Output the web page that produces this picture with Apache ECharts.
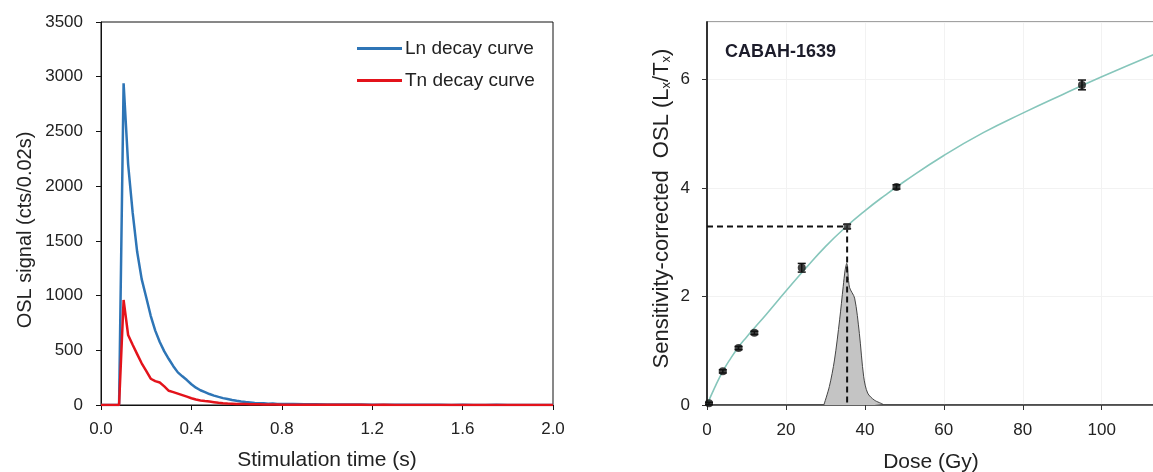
<!DOCTYPE html>
<html>
<head>
<meta charset="utf-8">
<script src="https://cdn.jsdelivr.net/npm/echarts@6/dist/echarts.min.js"></script>
<style>
html,body{margin:0;padding:0;background:#fff;}
#chart{width:1153px;height:472px;}
</style>
</head>
<body>
<div id="chart"></div>
<script>
// ---------- Left panel: OSL decay curves ----------
const timeS = [0, 0.02, 0.04, 0.06, 0.08,
  0.10, 0.12, 0.14, 0.16, 0.18, 0.20, 0.22, 0.24, 0.26, 0.28, 0.30, 0.32, 0.34, 0.36, 0.38, 0.40,
  0.42, 0.44, 0.46, 0.48, 0.50, 0.52, 0.54, 0.56, 0.58, 0.60, 0.62, 0.64, 0.66, 0.68, 0.70,
  0.72, 0.74, 0.76, 0.78, 0.80,
  0.85, 0.90, 0.95, 1.00, 1.05, 1.10, 1.15, 1.20, 1.25, 1.30, 1.35, 1.40, 1.45, 1.50,
  1.55, 1.60, 1.65, 1.70, 1.75, 1.80, 1.85, 1.90, 1.95, 2.00];
const lnCounts = [0, 0, 0, 0, 0,
  2940, 2200, 1760, 1400, 1150, 985, 815, 680, 575, 490, 420, 355, 298, 262, 228, 190,
  158, 135, 118, 100, 86, 74, 63, 55, 46, 38, 32, 27, 24, 18, 16,
  15, 12, 13, 10, 9,
  8, 7, 6, 5, 4, 5, 4, 3, 3, 2, 3, 2, 2, 2,
  1, 2, 1, 1, 2, 1, 1, 1, 1, 1];
const tnCounts = [0, 0, 0, 0, 0,
  960, 640, 550, 465, 381, 312, 240, 218, 205, 170, 130, 118, 104, 90, 76, 62,
  50, 42, 36, 31, 26, 21, 17, 14, 12, 10, 9, 8, 7, 6, 6,
  5, 5, 4, 4, 3,
  3, 3, 2, 3, 2, 2, 2, 1, 2, 1, 1, 1, 1, 1,
  1, 1, 1, 1, 1, 1, 1, 1, 1, 1];
const leftXTicks = ['0.0', '0.4', '0.8', '1.2', '1.6', '2.0'];

// ---------- Right panel: dose-response curve ----------
const sampleName = 'CABAH-1639';
const regenDose = [0.5, 4, 8, 12, 24, 48, 95];
const regenRatio = [0.03, 0.62, 1.05, 1.33, 2.53, 4.02, 5.9];
const regenErr = [0.02, 0.03, 0.03, 0.03, 0.08, 0.04, 0.09];
const naturalDose = [35.5];
const naturalRatio = [3.29];
const naturalErr = [0.04];
const fitDose = [0, 2, 4, 6, 8, 10, 12, 15, 20, 25, 30, 35, 40, 45, 50, 60, 70, 80, 90, 100, 113.5];
const fitRatio = [0, 0.33, 0.62, 0.86, 1.07, 1.25, 1.42, 1.67, 2.1, 2.52, 2.92, 3.27, 3.58, 3.86, 4.12, 4.6, 5.02, 5.38, 5.72, 6.05, 6.47];
const deDose = [29.6, 31.0, 32.3, 33.6, 34.5, 35.0, 35.4, 36.1, 37.4, 38.6, 39.7, 40.7, 42.4, 44.5];
const deDensity = [0, 0.34, 0.83, 1.57, 2.18, 2.49, 2.61, 2.17, 1.97, 1.32, 0.52, 0.22, 0.09, 0.02];

const FONT = '"Liberation Sans", Arial, sans-serif';
const zip = (a, b) => a.map((v, i) => [v, b[i]]);

const errData = regenDose.map((d, i) => [d, regenRatio[i] - regenErr[i], regenRatio[i] + regenErr[i]])
  .concat(naturalDose.map((d, i) => [d, naturalRatio[i] - naturalErr[i], naturalRatio[i] + naturalErr[i]]));

const chart = echarts.init(document.getElementById('chart'), null, {renderer: 'canvas'});
chart.setOption({
  animation: false,
  backgroundColor: '#fff',
  textStyle: {fontFamily: FONT},
  title: {
    text: sampleName, left: 720, top: 38,
    textStyle: {fontFamily: FONT, fontSize: 18, fontWeight: 'bold', color: '#1c1c2a'}
  },
  legend: {
    data: ['Ln decay curve', 'Tn decay curve'],
    orient: 'vertical', left: 352, top: 34, itemGap: 13,
    icon: 'rect', itemWidth: 45, itemHeight: 3,
    textStyle: {fontFamily: FONT, fontSize: 19, color: '#222', padding: [0, 0, 0, -2]}
  },
  grid: [
    {left: 101, top: 22, width: 452, bottom: 67, show: true, borderColor: '#111', borderWidth: 1,
      containLabel: false, outerBoundsMode: 'none'},
    {left: 707, top: 22, right: -2, bottom: 67, show: true, borderColor: '#444', borderWidth: 1,
      containLabel: false, outerBoundsMode: 'none'}
  ],
  xAxis: [
    {
      gridIndex: 0, type: 'value', min: 0, max: 2, interval: 0.4,
      name: 'Stimulation time (s)', nameLocation: 'middle', nameGap: 45,
      nameTextStyle: {fontFamily: FONT, fontSize: 21, color: '#222'},
      axisLine: {lineStyle: {color: '#111', width: 1}},
      axisTick: {show: true, length: 5, lineStyle: {color: '#111'}},
      axisLabel: {fontFamily: FONT, fontSize: 17, color: '#222', margin: 16,
        formatter: v => leftXTicks[Math.round(v / 0.4)]},
      splitLine: {show: false}
    },
    {
      gridIndex: 1, type: 'value', min: 0, max: 113.5, interval: 20,
      name: 'Dose (Gy)', nameLocation: 'middle', nameGap: 47,
      nameTextStyle: {fontFamily: FONT, fontSize: 21, color: '#222'},
      axisLine: {lineStyle: {color: '#333', width: 1.5}},
      axisTick: {show: true, length: 5, lineStyle: {color: '#333'}},
      axisLabel: {fontFamily: FONT, fontSize: 17, color: '#222', margin: 17, showMaxLabel: false},
      splitLine: {show: true, lineStyle: {color: '#f2f2f2', width: 1}}
    }
  ],
  yAxis: [
    {
      gridIndex: 0, type: 'value', min: 0, max: 3500, interval: 500,
      name: 'OSL signal (cts/0.02s)', nameLocation: 'middle', nameGap: 66,
      nameTextStyle: {fontFamily: FONT, fontSize: 20, color: '#222', padding: [0, 33, 0, 0]},
      axisLine: {lineStyle: {color: '#111', width: 1}},
      axisTick: {show: true, length: 5, lineStyle: {color: '#111'}},
      axisLabel: {fontFamily: FONT, fontSize: 17, color: '#222', margin: 18, formatter: v => String(v)},
      splitLine: {show: false}
    },
    {
      gridIndex: 1, type: 'value', min: 0, max: 7.06, interval: 2,
      name: '{t|Sensitivity-corrected  OSL (L}{s|x}{t|/T}{s|x}{t|)}',
      nameLocation: 'middle', nameGap: 34,
      nameTextStyle: {
        fontFamily: FONT, fontSize: 22, color: '#222', padding: [0, 0, 0, 10],
        rich: {
          t: {fontFamily: FONT, fontSize: 22, color: '#222', lineHeight: 26, verticalAlign: 'bottom'},
          s: {fontFamily: FONT, fontSize: 13, color: '#222', lineHeight: 26, verticalAlign: 'bottom'}
        }
      },
      axisLine: {lineStyle: {color: '#333', width: 2}},
      axisTick: {show: true, length: 5, lineStyle: {color: '#333'}},
      axisLabel: {fontFamily: FONT, fontSize: 17, color: '#222', margin: 17, showMaxLabel: false},
      splitLine: {show: true, lineStyle: {color: '#f2f2f2', width: 1}}
    }
  ],
  series: [
    {
      name: 'Ln decay curve', type: 'line', xAxisIndex: 0, yAxisIndex: 0,
      data: zip(timeS, lnCounts), showSymbol: false, symbol: 'none',
      lineStyle: {color: '#2e75b6', width: 2.5}, itemStyle: {color: '#2e75b6'}, z: 3
    },
    {
      name: 'Tn decay curve', type: 'line', xAxisIndex: 0, yAxisIndex: 0,
      data: zip(timeS, tnCounts), showSymbol: false, symbol: 'none',
      lineStyle: {color: '#e3131b', width: 2.5}, itemStyle: {color: '#e3131b'}, z: 4
    },
    {
      name: 'De distribution', type: 'line', xAxisIndex: 1, yAxisIndex: 1,
      data: zip(deDose, deDensity), showSymbol: false, symbol: 'none', smooth: 0.3,
      lineStyle: {color: '#444', width: 1},
      areaStyle: {color: '#c4c4c4', opacity: 1}, z: 2
    },
    {
      name: 'Fit', type: 'line', xAxisIndex: 1, yAxisIndex: 1,
      data: zip(fitDose, fitRatio), showSymbol: false, symbol: 'none', smooth: true,
      lineStyle: {color: '#86c6bb', width: 1.6}, z: 3
    },
    {
      name: 'Dose line', type: 'line', xAxisIndex: 1, yAxisIndex: 1,
      data: [[0, naturalRatio[0]], [naturalDose[0], naturalRatio[0]], [naturalDose[0], 0]],
      showSymbol: false, symbol: 'none',
      lineStyle: {color: '#111', width: 2, type: [6, 4]}, z: 4
    },
    {
      name: 'Error bars', type: 'custom', xAxisIndex: 1, yAxisIndex: 1,
      data: errData, z: 5,
      renderItem: function (params, api) {
        const x = api.value(0);
        const lo = api.coord([x, api.value(1)]);
        const hi = api.coord([x, api.value(2)]);
        const w = 4;
        const st = {stroke: '#111', lineWidth: 1.5};
        return {
          type: 'group',
          children: [
            {type: 'line', shape: {x1: lo[0], y1: lo[1], x2: hi[0], y2: hi[1]}, style: st},
            {type: 'line', shape: {x1: lo[0] - w, y1: lo[1], x2: lo[0] + w, y2: lo[1]}, style: st},
            {type: 'line', shape: {x1: hi[0] - w, y1: hi[1], x2: hi[0] + w, y2: hi[1]}, style: st}
          ]
        };
      }
    },
    {
      name: 'Regenerated', type: 'scatter', xAxisIndex: 1, yAxisIndex: 1,
      data: zip(regenDose, regenRatio), symbol: 'circle', symbolSize: 8,
      itemStyle: {color: '#111'}, z: 6
    },
    {
      name: 'Natural', type: 'scatter', xAxisIndex: 1, yAxisIndex: 1,
      data: zip(naturalDose, naturalRatio), symbol: 'rect', symbolSize: 7,
      itemStyle: {color: '#333'}, z: 6
    }
  ]
});
</script>
</body>
</html>
